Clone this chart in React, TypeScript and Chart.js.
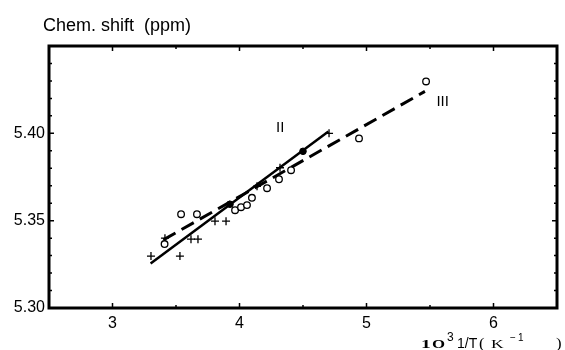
import { useEffect, useRef } from 'react';
import { Chart, registerables } from 'chart.js';

Chart.register(...registerables);

// ---- data ----
const circleX = [3.41, 3.54, 3.665, 3.965, 4.012, 4.059, 4.098, 4.217, 4.311, 4.406, 4.941, 5.469];
const circleY = [5.3366, 5.3537, 5.3537, 5.356, 5.3577, 5.3589, 5.3631, 5.3686, 5.3737, 5.3789, 5.3971, 5.4297];

const plusX = [3.303, 3.531, 3.413, 3.618, 3.673, 3.807, 3.894, 4.138, 4.319, 4.705];
const plusY = [5.3297, 5.3297, 5.340, 5.3394, 5.3394, 5.3497, 5.3497, 5.3697, 5.3803, 5.400];

const filledX = [3.925, 4.50];
const filledY = [5.3594, 5.3897];

const fitIX = [3.30, 4.70];
const fitIY = [5.3255, 5.401];
const fitIIIX = [3.40, 5.46];
const fitIIIY = [5.339, 5.424];

const xTickLabels = ['3', '4', '5', '6'];
const yTickLabels = ['5.30', '5.35', '5.40'];

const curveLabelText = ['II', 'III'];
const curveLabelX = [4.32, 5.60];
const curveLabelY = [5.403, 5.418];

const toPoints = (xs: number[], ys: number[]) => xs.map((x, i) => ({ x, y: ys[i] }));

const drawStretched = (ctx: any, text: string, x: number, y: number, font: string, sx: number) => {
  ctx.save();
  ctx.font = font;
  ctx.translate(x, y);
  ctx.scale(sx, 1);
  ctx.fillText(text, 0, 0);
  ctx.restore();
};

const framePlugin = {
  id: 'frameAndText',
  afterDatasetsDraw(chart: any) {
    const { ctx, chartArea, scales } = chart;
    const { left, right, top, bottom } = chartArea;
    const xs = scales.x;
    const ys = scales.y;
    ctx.save();
    ctx.strokeStyle = '#000';
    ctx.fillStyle = '#000';
    // inward ticks
    ctx.lineWidth = 1.5;
    ctx.beginPath();
    xs.ticks.forEach((t: any) => {
      const px = xs.getPixelForValue(t.value);
      const major = Number.isInteger(Math.round(t.value * 1000) / 1000);
      const len = major ? 5 : 3;
      ctx.moveTo(px, bottom);
      ctx.lineTo(px, bottom - len);
      ctx.moveTo(px, top);
      ctx.lineTo(px, top + len);
    });
    ys.ticks.forEach((t: any) => {
      const py = ys.getPixelForValue(t.value);
      const major = Math.abs(t.value * 20 - Math.round(t.value * 20)) < 1e-6;
      const len = major ? 5 : 3;
      ctx.moveTo(left, py);
      ctx.lineTo(left + len, py);
      ctx.moveTo(right, py);
      ctx.lineTo(right - len, py);
    });
    ctx.stroke();
    // frame
    ctx.lineWidth = 3;
    ctx.strokeRect(left, top, right - left, bottom - top);

    // curve labels
    ctx.font = '15px "Liberation Sans"';
    ctx.textAlign = 'center';
    ctx.textBaseline = 'middle';
    curveLabelText.forEach((txt, i) => {
      ctx.fillText(txt, xs.getPixelForValue(curveLabelX[i]), ys.getPixelForValue(curveLabelY[i]));
    });

    // y-axis title
    ctx.textAlign = 'left';
    ctx.textBaseline = 'alphabetic';
    ctx.font = '18px "Liberation Sans"';
    ctx.fillText('Chem. shift  (ppm)', 43, 31);

    // x-axis title: 10^3 1/T ( K^-1 )
    const base = 348;
    drawStretched(ctx, '1', 421, base, 'bold 13px "Liberation Serif"', 1.5);
    drawStretched(ctx, 'O', 432, base, 'bold 12px "Liberation Serif"', 1.4);
    drawStretched(ctx, '3', 447, base - 7, '12px "Liberation Sans"', 1);
    drawStretched(ctx, '1/T', 457, base, '14px "Liberation Sans"', 1);
    drawStretched(ctx, '(', 479, base, '14px "Liberation Serif"', 1.2);
    drawStretched(ctx, 'K', 491, base, '12px "Liberation Serif"', 1.45);
    drawStretched(ctx, '\u2212', 510, base - 7, '10px "Liberation Sans"', 1);
    drawStretched(ctx, '1', 518, base - 7, '10px "Liberation Sans"', 1);
    drawStretched(ctx, ')', 556, base, '14px "Liberation Serif"', 1.2);
    ctx.restore();
  },
};

export default function App() {
  const ref = useRef<HTMLCanvasElement | null>(null);
  useEffect(() => {
    if (!ref.current) return;
    Chart.defaults.font.family = '"Liberation Sans", Arial, sans-serif';
    Chart.defaults.color = '#000';
    const chart = new Chart(ref.current, {
      type: 'scatter',
      data: {
        datasets: [
          {
            label: 'open',
            data: toPoints(circleX, circleY),
            pointStyle: 'circle',
            pointRadius: 3.3,
            backgroundColor: '#fff',
            borderColor: '#000',
            borderWidth: 1.3,
            order: 1,
          },
          {
            label: 'plus',
            data: toPoints(plusX, plusY),
            pointStyle: 'cross',
            pointRadius: 4,
            borderColor: '#000',
            borderWidth: 1.3,
            order: 1,
          },
          {
            label: 'filled',
            data: toPoints(filledX, filledY),
            pointStyle: 'circle',
            pointRadius: 3.3,
            backgroundColor: '#000',
            borderColor: '#000',
            borderWidth: 1,
            order: 1,
          },
          {
            label: 'I',
            data: toPoints(fitIX, fitIY),
            showLine: true,
            pointRadius: 0,
            borderColor: '#000',
            borderWidth: 2.5,
            order: 2,
          },
          {
            label: 'III',
            data: toPoints(fitIIIX, fitIIIY),
            showLine: true,
            pointRadius: 0,
            borderColor: '#000',
            borderWidth: 3,
            borderDash: [14, 7],
            order: 2,
          },
        ],
      },
      options: {
        animation: false,
        responsive: true,
        maintainAspectRatio: false,
        layout: { padding: { left: 0, right: 8, top: 46, bottom: 0 } },
        plugins: { legend: { display: false }, tooltip: { enabled: false }, title: { display: false } },
        scales: {
          x: {
            type: 'linear',
            min: 2.5,
            max: 6.5,
            grid: { display: false, drawTicks: false },
            border: { display: false },
            ticks: {
              stepSize: 0.5,
              padding: 6,
              font: { size: 16 },
              maxRotation: 0,
              autoSkip: false,
              callback: (v: any) => {
                const s = String(Math.round(Number(v) * 100) / 100);
                return xTickLabels.includes(s) ? s : '';
              },
            },
            afterFit: (s: any) => { s.height = 42; },
          },
          y: {
            type: 'linear',
            min: 5.30,
            max: 5.45,
            grid: { display: false, drawTicks: false },
            border: { display: false },
            ticks: {
              stepSize: 0.01,
              padding: 4,
              font: { size: 16 },
              autoSkip: false,
              callback: (v: any) => {
                const s = Number(v).toFixed(2);
                return yTickLabels.includes(s) ? s : '';
              },
            },
            afterFit: (s: any) => { s.width = 49; },
          },
        },
      },
      plugins: [framePlugin],
    });
    return () => chart.destroy();
  }, []);
  return (
    <div style={{ position: 'fixed', left: 0, top: 0, width: 565, height: 350, background: '#fff' }}>
      <canvas ref={ref} />
    </div>
  );
}
